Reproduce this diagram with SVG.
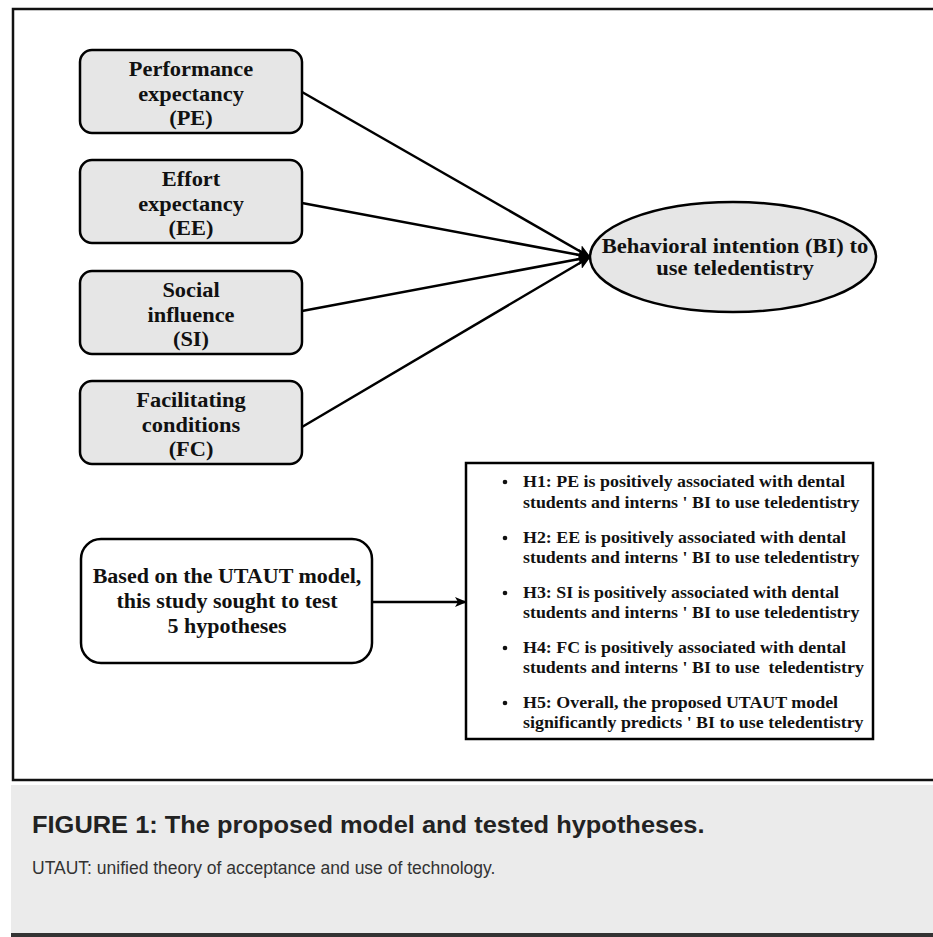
<svg xmlns="http://www.w3.org/2000/svg" width="933" height="937" viewBox="0 0 933 937">
<style>
.box{fill:#e6e6e6;stroke:#000;stroke-width:2.5}
.t{font-family:"Liberation Serif","Times New Roman",serif;font-weight:bold;font-size:20px;fill:#111;text-anchor:middle}
.h{font-family:"Liberation Serif","Times New Roman",serif;font-weight:bold;font-size:16.5px;fill:#111}
.c{stroke:#000;stroke-width:2.5;fill:none}
</style>
<defs>
<marker id="ah" viewBox="0 0 12 10" refX="11" refY="5" markerWidth="12" markerHeight="10" markerUnits="userSpaceOnUse" orient="auto">
<path d="M0,0 L12,5 L0,10 L3,5 Z" fill="#000"/>
</marker>
<marker id="ah2" viewBox="0 0 14 12" refX="13" refY="6" markerWidth="14" markerHeight="12" markerUnits="userSpaceOnUse" orient="auto">
<path d="M0,0 L14,6 L0,12 L3,6 Z" fill="#000"/>
</marker>
</defs>
<rect x="0" y="0" width="933" height="937" fill="#fff"/>
<rect x="13" y="9" width="930" height="771" fill="#fff" stroke="#111" stroke-width="2.5"/>
<g id="caption">
<rect x="11" y="785" width="922" height="148" fill="#ebebeb"/>
<rect x="11" y="933" width="922" height="4" fill="#333"/>
<text transform="translate(32 833) scale(1.06 1)" font-family="Liberation Sans,Arial,sans-serif" font-weight="bold" font-size="24" fill="#222">FIGURE 1: The proposed model and tested hypotheses.</text>
<text x="32" y="874" font-family="Liberation Sans,Arial,sans-serif" font-size="17.5" fill="#333">UTAUT: unified theory of acceptance and use of technology.</text>
</g>
<g id="connectors">
<line class="c" x1="302" y1="92" x2="590" y2="257" marker-end="url(#ah2)"/>
<line class="c" x1="302" y1="203" x2="590" y2="257" marker-end="url(#ah2)"/>
<line class="c" x1="302" y1="311" x2="590" y2="257" marker-end="url(#ah2)"/>
<line class="c" x1="302" y1="427" x2="590" y2="257" marker-end="url(#ah2)"/>
<line class="c" x1="372" y1="602" x2="466" y2="602" marker-end="url(#ah)"/>
</g>
<g id="PE">
<rect class="box" x="80" y="50" width="222" height="83" rx="12"/>
<g transform="translate(191 0) scale(1.12 1)">
<text class="t" x="0" y="76">Performance</text>
<text class="t" x="0" y="101">expectancy</text>
<text class="t" x="0" y="125">(PE)</text>
</g>
</g>
<g id="EE">
<rect class="box" x="80" y="160" width="222" height="83" rx="12"/>
<g transform="translate(191 0) scale(1.12 1)">
<text class="t" x="0" y="186">Effort</text>
<text class="t" x="0" y="211">expectancy</text>
<text class="t" x="0" y="235">(EE)</text>
</g>
</g>
<g id="SI">
<rect class="box" x="80" y="271" width="222" height="83" rx="12"/>
<g transform="translate(191 0) scale(1.12 1)">
<text class="t" x="0" y="297">Social</text>
<text class="t" x="0" y="322">influence</text>
<text class="t" x="0" y="346">(SI)</text>
</g>
</g>
<g id="FC">
<rect class="box" x="80" y="381" width="222" height="83" rx="12"/>
<g transform="translate(191 0) scale(1.12 1)">
<text class="t" x="0" y="407">Facilitating</text>
<text class="t" x="0" y="432">conditions</text>
<text class="t" x="0" y="456">(FC)</text>
</g>
</g>
<g id="BI">
<ellipse class="box" cx="733" cy="257" rx="143" ry="55"/>
<g transform="translate(735 0) scale(1.13 1)">
<text class="t" x="0" y="253">Behavioral intention (BI) to</text>
<text class="t" x="0" y="275">use teledentistry</text>
</g>
</g>
<g id="based">
<rect x="81" y="539" width="291" height="124" rx="20" fill="#fff" stroke="#000" stroke-width="2.5"/>
<g transform="translate(227 0) scale(1.1 1)">
<text class="t" x="0" y="583">Based on the UTAUT model,</text>
<text class="t" x="0" y="608">this study sought to test</text>
<text class="t" x="0" y="633">5 hypotheses</text>
</g>
</g>
<g id="hypotheses">
<rect x="466" y="463" width="407" height="276" fill="#fff" stroke="#000" stroke-width="2.5"/>
<circle cx="505" cy="482" r="2.3" fill="#111"/>
<circle cx="505" cy="538" r="2.3" fill="#111"/>
<circle cx="505" cy="593" r="2.3" fill="#111"/>
<circle cx="505" cy="648" r="2.3" fill="#111"/>
<circle cx="505" cy="703" r="2.3" fill="#111"/>
<g transform="translate(523 0) scale(1.085 1)">
<text class="h" x="0" y="487">H1: PE is positively associated with dental</text>
<text class="h" x="0" y="508">students and interns ' BI to use teledentistry</text>
<text class="h" x="0" y="543">H2: EE is positively associated with dental</text>
<text class="h" x="0" y="563">students and interns ' BI to use teledentistry</text>
<text class="h" x="0" y="598">H3: SI is positively associated with dental</text>
<text class="h" x="0" y="618">students and interns ' BI to use teledentistry</text>
<text class="h" x="0" y="653">H4: FC is positively associated with dental</text>
<text class="h" x="0" y="673" xml:space="preserve">students and interns ' BI to use  teledentistry</text>
<text class="h" x="0" y="708">H5: Overall, the proposed UTAUT model</text>
<text class="h" x="0" y="728">significantly predicts ' BI to use teledentistry</text>
</g>
</g>
</svg>
